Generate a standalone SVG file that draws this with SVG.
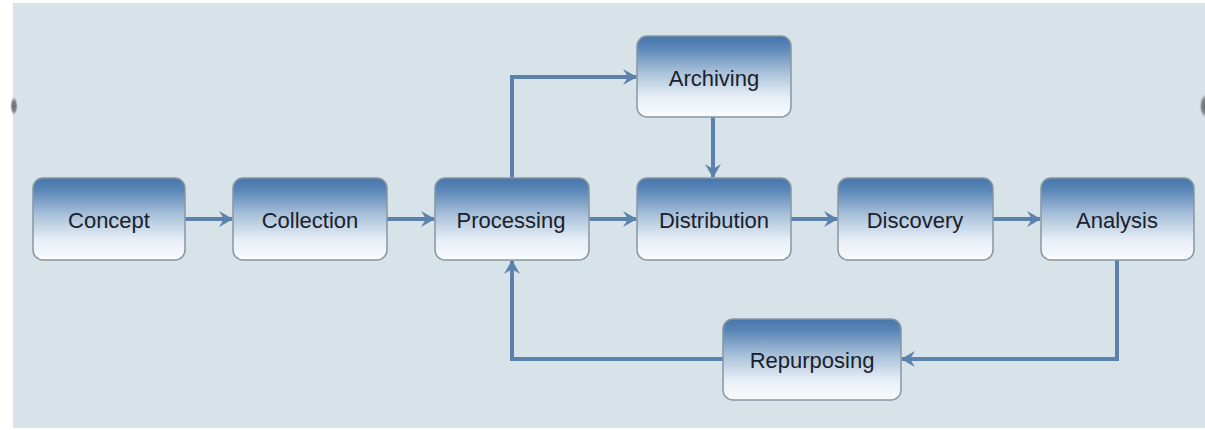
<svg xmlns="http://www.w3.org/2000/svg" width="1205" height="430" viewBox="0 0 1205 430">
<defs>
<linearGradient id="g" x1="0" y1="0" x2="0" y2="1">
<stop offset="0" stop-color="#4475ab"/>
<stop offset="0.15" stop-color="#5b87b8"/>
<stop offset="0.45" stop-color="#a9c1da"/>
<stop offset="0.75" stop-color="#e6eef6"/>
<stop offset="1" stop-color="#fafcfd"/>
</linearGradient>
<marker id="ah" viewBox="0 0 14 16" refX="13" refY="8" markerWidth="14" markerHeight="16" markerUnits="userSpaceOnUse" orient="auto">
<path d="M0,0 L14,8 L0,16 L5,8 Z" fill="#5a82ad"/>
</marker>
<radialGradient id="blob">
<stop offset="0" stop-color="#5f6569"/>
<stop offset="0.6" stop-color="#8a9196"/>
<stop offset="1" stop-color="#d6e1e8" stop-opacity="0"/>
</radialGradient>
</defs>
<style>
.box{fill:url(#g);stroke:#8796a4;stroke-width:1.5}
.lbl{font-family:"Liberation Sans",Arial,sans-serif;font-size:22px;fill:#1a212a;text-anchor:middle}
.c{fill:none;stroke:#5a82ad;stroke-width:4;marker-end:url(#ah)}
</style>
<rect width="1205" height="430" fill="#ffffff"/>
<rect x="13" y="3" width="1192" height="425" fill="#d8e2e9"/>
<ellipse cx="14" cy="106" rx="4" ry="10" fill="url(#blob)"/>
<ellipse cx="1205" cy="106" rx="6" ry="13" fill="url(#blob)"/>
<g id="connectors">
<path class="c" d="M185,219 H232"/>
<path class="c" d="M387,219 H434"/>
<path class="c" d="M589,219 H636"/>
<path class="c" d="M791,219 H837"/>
<path class="c" d="M993,219 H1040"/>
<path class="c" d="M512,178 V77 H636"/>
<path class="c" d="M713,117 V177"/>
<path class="c" d="M1117,260 V359 H902"/>
<path class="c" d="M723,359 H512 V261"/>
</g>
<g id="concept"><rect class="box" x="33" y="178" width="152" height="82" rx="10"/><text class="lbl" x="109" y="228">Concept</text></g>
<g id="collection"><rect class="box" x="233" y="178" width="154" height="82" rx="10"/><text class="lbl" x="310" y="228">Collection</text></g>
<g id="processing"><rect class="box" x="435" y="178" width="154" height="82" rx="10"/><text class="lbl" x="511" y="228">Processing</text></g>
<g id="archiving"><rect class="box" x="637" y="36" width="154" height="81" rx="10"/><text class="lbl" x="714" y="86">Archiving</text></g>
<g id="distribution"><rect class="box" x="637" y="178" width="154" height="82" rx="10"/><text class="lbl" x="714" y="228">Distribution</text></g>
<g id="discovery"><rect class="box" x="838" y="178" width="155" height="82" rx="10"/><text class="lbl" x="915" y="228">Discovery</text></g>
<g id="analysis"><rect class="box" x="1041" y="178" width="153" height="82" rx="10"/><text class="lbl" x="1117" y="228">Analysis</text></g>
<g id="repurposing"><rect class="box" x="723" y="319" width="178" height="81" rx="10"/><text class="lbl" x="812" y="368">Repurposing</text></g>
</svg>
